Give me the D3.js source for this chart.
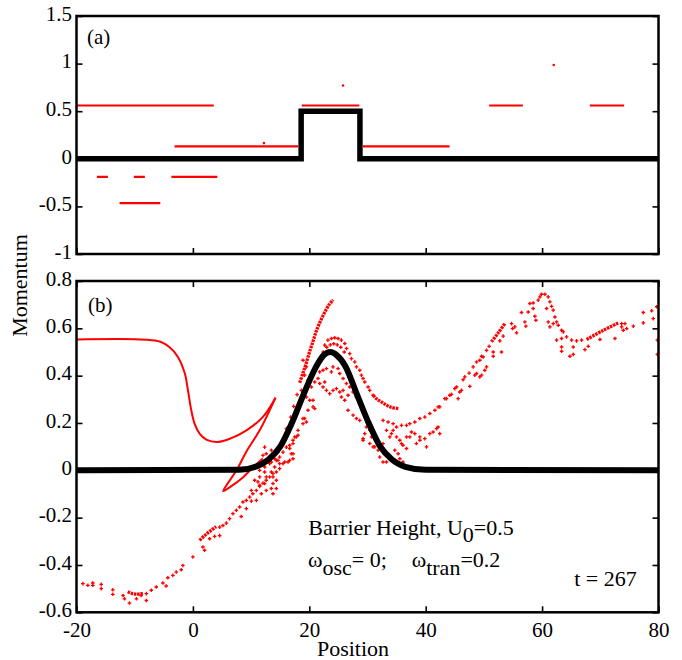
<!DOCTYPE html>
<html>
<head>
<meta charset="utf-8">
<script src="https://cdn.jsdelivr.net/npm/d3@7"></script>
<style>
body { margin: 0; background: #fff; }
text { font-family: "Liberation Serif", "Times New Roman", serif; }
</style>
</head>
<body>
<svg width="682" height="660"></svg>
<script>
// ticks
var xTicks = [-20, 0, 20, 40, 60, 80];
var aTicks = [-1, -0.5, 0, 0.5, 1, 1.5];
var bTicks = [-0.6, -0.4, -0.2, 0, 0.2, 0.4, 0.6, 0.8];

// panel (a): square barrier and red momentum plateaus [x0, x1, p]
var stepX = [-20, 18.6, 18.6, 28.7, 28.7, 80];
var stepY = [0, 0, 0.5, 0.5, 0, 0];
var aSegments = [
    [-20, 3.6, 0.56], [-3.15, 18.1, 0.13], [18.7, 28.6, 0.56], [29.2, 44.1, 0.13],
    [50.9, 56.7, 0.56], [68.2, 74.1, 0.56],
    [-16.5, -14.6, -0.19], [-10.15, -8.25, -0.19], [-3.7, 4.2, -0.19], [-12.6, -5.6, -0.465]
];
var aDots = [[12.2, 0.165], [25.8, 0.77], [62.0, 0.985]];

// panel (b): gaussian barrier
var barX = [-20, 8, 11, 13, 15, 17, 19, 21, 22.5, 23.6, 24.7, 26.2, 28.2, 30.2, 32.2, 34.2, 36.5, 40, 80];
var barY = [0, 0.002, 0.017, 0.046, 0.10, 0.20, 0.32, 0.43, 0.487, 0.5, 0.487, 0.44, 0.32, 0.20, 0.10, 0.046, 0.015, 0.002, 0];

// thin solid red curve, and its folded part after the cusp
var curveIn = [[-20, 0.553], [-8, 0.552], [-5.6, 0.543], [-4.0, 0.52], [-2.6, 0.48], [-1.4, 0.41], [-0.86, 0.34],
    [-0.28, 0.254], [0.29, 0.197], [1.15, 0.155], [2.3, 0.13], [4.3, 0.12], [6.5, 0.135], [9.2, 0.169],
    [12.0, 0.225], [14.2, 0.307]];
var curveFold = [[14.2, 0.307], [11.5, 0.17], [9.2, 0.08], [7.5, 0.0], [5.2, -0.088], [6.3, -0.072],
    [8.6, -0.03], [10.3, 0.012], [12.0, 0.05]];

// densely packed trajectory pieces
var densePeak = [[18.35, 0.37], [18.9, 0.41], [19.5, 0.455], [20.1, 0.505], [20.7, 0.55], [21.3, 0.595],
    [22.0, 0.635], [22.7, 0.67], [23.4, 0.70], [24.1, 0.72]];
var denseTail = [[31.0, 0.317], [31.5, 0.303], [32.4, 0.289], [33.3, 0.275], [34.1, 0.266], [35.3, 0.261]];
var denseLow = [[1.15, -0.296], [2.0, -0.276], [3.0, -0.256], [4.0, -0.238]];
var denseMin = [[-11.2, -0.513], [-10.5, -0.52], [-9.7, -0.523], [-8.6, -0.52]];
var denseUp = [[51.3, 0.543], [52.5, 0.582], [53.6, 0.62]];
var denseRight = [[67.65, 0.553], [70.4, 0.59], [73.1, 0.623]];

// scattered particles
var dotsLow = [[-18.9, -0.479], [-18.05, -0.486], [-17.2, -0.476], [-17.2, -0.486], [-15.75, -0.482], [-15.75, -0.5],
    [-13.76, -0.505], [-13.76, -0.524], [-12.0, -0.529], [-11.75, -0.543], [-10.9, -0.561], [-9.7, -0.543],
    [-8.9, -0.529], [-8.0, -0.521], [-8.0, -0.55], [-7.15, -0.507], [-6.3, -0.493], [-5.16, -0.476], [-4.6, -0.489],
    [-4.3, -0.454], [-3.44, -0.444], [-2.86, -0.43], [-2.0, -0.42], [-1.72, -0.402], [0.0, -0.366], [1.72, -0.324],
    [2.0, -0.338], [2.87, -0.289], [3.73, -0.279], [4.6, -0.276], [4.6, -0.24], [5.16, -0.233], [5.74, -0.223],
    [6.3, -0.204], [6.88, -0.183], [7.46, -0.169], [8.03, -0.155], [8.6, -0.134], [9.18, -0.127], [8.3, -0.195],
    [9.18, -0.162], [9.75, -0.113], [10.3, -0.099], [10.9, -0.085], [11.47, -0.068], [10.9, -0.127], [10.04, -0.13],
    [11.76, -0.099], [10.61, -0.042], [11.47, -0.028], [11.47, -0.063], [11.47, 0.0], [10.04, -0.085], [11.18, -0.049]];
var dotsRise = [[12.04, -0.054], [12.6, -0.042], [13.19, -0.028], [13.76, -0.014], [14.34, -0.042], [13.76, -0.056],
    [13.48, -0.077], [14.34, -0.077], [13.76, -0.099], [12.6, -0.085], [12.33, 0.014], [13.19, 0.028], [14.34, 0.042],
    [14.9, 0.028], [15.77, 0.035], [16.63, 0.042], [17.2, 0.07], [16.06, 0.098], [16.63, 0.106], [15.48, 0.077],
    [14.9, 0.056], [14.05, 0.049], [13.48, 0.085], [12.6, 0.07], [12.04, 0.063], [12.33, 0.098], [17.2, 0.127],
    [17.78, 0.141], [18.06, 0.148], [17.9, 0.32], [17.32, 0.27], [16.8, 0.225], [16.06, 0.176], [15.48, 0.127],
    [14.62, 0.077], [13.48, 0.035], [12.33, -0.007], [20.64, 0.296], [20.93, 0.261], [19.78, 0.254], [19.2, 0.219],
    [18.92, 0.197], [18.06, 0.169], [17.49, 0.141], [17.2, 0.113], [16.63, 0.092], [16.92, 0.07], [17.2, 0.049],
    [16.34, 0.035], [15.48, 0.028], [14.62, 0.042], [14.05, 0.014], [14.34, -0.007], [13.76, -0.028], [12.33, -0.056],
    [12.6, -0.028], [13.48, -0.007], [14.9, 0.007], [18.92, 0.465], [19.5, 0.437], [19.2, 0.402], [19.78, 0.381],
    [18.64, 0.338], [19.5, 0.31], [20.07, 0.296], [20.64, 0.268], [20.36, 0.352], [20.93, 0.373], [21.5, 0.388],
    [21.79, 0.367], [21.79, 0.416], [18.92, 0.219], [19.5, 0.204]];
var dotsPeak = [[22.65, 0.529], [23.2, 0.55], [23.8, 0.557], [24.37, 0.56], [24.94, 0.557], [25.5, 0.55], [26.1, 0.536],
    [26.4, 0.515], [26.95, 0.493], [27.24, 0.472], [27.8, 0.458], [28.1, 0.437], [28.67, 0.423], [28.96, 0.402],
    [29.24, 0.388], [29.53, 0.373], [30.1, 0.352], [30.39, 0.338], [30.96, 0.317], [22.4, 0.5], [23.0, 0.52],
    [23.6, 0.53], [24.2, 0.535], [24.8, 0.53], [25.4, 0.52], [26.0, 0.5], [22.36, 0.352], [22.65, 0.373],
    [22.94, 0.338], [23.5, 0.324], [24.08, 0.338], [24.66, 0.345], [25.23, 0.331], [25.8, 0.338], [25.52, 0.31],
    [26.09, 0.296], [26.66, 0.317], [22.36, 0.423], [22.94, 0.43], [23.8, 0.416], [24.08, 0.437], [24.94, 0.43],
    [25.23, 0.409], [25.8, 0.388], [26.38, 0.367], [26.95, 0.352], [27.52, 0.331], [28.1, 0.31], [28.67, 0.289],
    [28.96, 0.268], [29.53, 0.247], [26.66, 0.254], [27.52, 0.233], [28.1, 0.219], [28.67, 0.211], [29.82, 0.183],
    [30.39, 0.169], [30.68, 0.141], [30.39, 0.113], [31.25, 0.099], [31.82, 0.085], [32.1, 0.056], [32.67, 0.035],
    [33.26, 0.035], [34.12, 0.042], [29.53, 0.155], [29.24, 0.134], [32.67, 0.211], [33.53, 0.204], [34.4, 0.197],
    [34.98, 0.183], [35.84, 0.19], [33.26, 0.169], [34.12, 0.155], [34.98, 0.141], [35.55, 0.127], [34.69, 0.085],
    [35.26, 0.07], [35.55, 0.049], [29.24, 0.127], [30.96, 0.099], [32.67, 0.113], [33.83, 0.141], [34.4, 0.169]];
var dotsValley = [[36.1, 0.106], [36.7, 0.092], [36.1, 0.035], [36.7, 0.19], [37.27, 0.197], [38.13, 0.204],
    [38.99, 0.219], [39.85, 0.225], [40.71, 0.24], [41.57, 0.254], [42.13, 0.268], [37.27, 0.141], [38.13, 0.155],
    [38.99, 0.141], [39.85, 0.134], [40.71, 0.155], [41.27, 0.162], [41.86, 0.176], [38.4, 0.113], [40.14, 0.099],
    [35.84, 0.113], [36.7, 0.141], [37.56, 0.162], [39.0, 0.127], [42.42, 0.155], [42.13, 0.183],
    [43.28, 0.303], [44.14, 0.317], [45.0, 0.345], [45.57, 0.303], [45.86, 0.331], [46.43, 0.383], [46.15, 0.338],
    [46.72, 0.395], [47.58, 0.355], [47.46, 0.411], [48.15, 0.437], [48.44, 0.402], [48.74, 0.458], [49.3, 0.395],
    [49.6, 0.402], [49.6, 0.482], [43.57, 0.303], [44.43, 0.321], [45.3, 0.352], [48.74, 0.409], [49.3, 0.465],
    [49.87, 0.479], [42.42, 0.268]];
var dotsRight = [[50.16, 0.423], [50.45, 0.507], [50.45, 0.437], [50.9, 0.524], [51.6, 0.5], [51.6, 0.482],
    [52.74, 0.547], [53.03, 0.5], [53.31, 0.567], [54.75, 0.62], [54.92, 0.599], [55.32, 0.606], [55.61, 0.581],
    [56.47, 0.667], [57.04, 0.627], [57.21, 0.609], [57.61, 0.669], [57.9, 0.705], [58.47, 0.684], [58.76, 0.651],
    [58.93, 0.634], [58.47, 0.707], [59.33, 0.719], [59.62, 0.733], [59.9, 0.744], [60.48, 0.744], [60.77, 0.684],
    [61.05, 0.733], [61.34, 0.712], [61.63, 0.693], [61.91, 0.677], [62.2, 0.648], [62.49, 0.627], [61.05, 0.627],
    [61.34, 0.606], [61.91, 0.62], [62.77, 0.613], [63.35, 0.592], [63.63, 0.585], [62.49, 0.55], [63.35, 0.557],
    [64.2, 0.564], [63.35, 0.521], [63.35, 0.503], [64.78, 0.482], [65.35, 0.49], [65.35, 0.521], [65.07, 0.55],
    [65.93, 0.547], [66.79, 0.55], [67.36, 0.51], [67.93, 0.524], [69.94, 0.553], [72.52, 0.557], [73.67, 0.606],
    [73.95, 0.592], [74.53, 0.599], [73.67, 0.62], [74.24, 0.62], [75.67, 0.609], [77.39, 0.667], [78.83, 0.674],
    [77.39, 0.623], [79.1, 0.641], [79.69, 0.691], [79.8, 0.55], [79.8, 0.49]];

var svg = d3.select("svg");
var left = 76.5, right = 658.5;
var x = d3.scaleLinear().domain([-20, 80]).range([left, right]);
var ya = d3.scaleLinear().domain([-1, 1.5]).range([254, 16]);
var yb = d3.scaleLinear().domain([-0.6, 0.8]).range([612.3, 281]);
var fmt = function (d) { return String(d); };

function clip(id, y) {
    svg.append("clipPath").attr("id", id).append("rect")
        .attr("x", left).attr("y", y.range()[1])
        .attr("width", right - left).attr("height", y.range()[0] - y.range()[1]);
}
clip("ca", ya);
clip("cb", yb);

function styleAxis(g, size) {
    g.select(".domain").remove();
    g.selectAll(".tick line").attr("stroke-width", 1.6);
    g.selectAll("text").attr("font-family", "Liberation Serif, Times New Roman, serif")
        .attr("font-size", size).attr("fill", "#000");
}

// axes, panel a
svg.append("g").attr("transform", "translate(" + left + ",0)")
    .call(d3.axisLeft(ya).tickValues(aTicks).tickSize(-6).tickPadding(4.5).tickFormat(fmt))
    .call(styleAxis, 21).selectAll("text").attr("dy", "0.2em");
svg.append("g").attr("transform", "translate(" + right + ",0)")
    .call(d3.axisRight(ya).tickValues(aTicks).tickSize(-6).tickFormat(""))
    .call(styleAxis, 21);
svg.append("g").attr("transform", "translate(0," + ya.range()[0] + ")")
    .call(d3.axisBottom(x).tickValues(xTicks).tickSize(-6).tickFormat(""))
    .call(styleAxis, 21);

// axes, panel b
svg.append("g").attr("transform", "translate(" + left + ",0)")
    .call(d3.axisLeft(yb).tickValues(bTicks).tickSize(-6).tickPadding(4.5).tickFormat(fmt))
    .call(styleAxis, 21).selectAll("text").attr("dy", "0.2em");
svg.append("g").attr("transform", "translate(" + right + ",0)")
    .call(d3.axisRight(yb).tickValues(bTicks).tickSize(-6).tickFormat(""))
    .call(styleAxis, 21);
svg.append("g").attr("transform", "translate(0," + yb.range()[1] + ")")
    .call(d3.axisTop(x).tickValues(xTicks).tickSize(-6).tickFormat(""))
    .call(styleAxis, 21);
svg.append("g").attr("transform", "translate(0," + yb.range()[0] + ")")
    .call(d3.axisBottom(x).tickValues(xTicks).tickSize(-6).tickPadding(9.8).tickFormat(fmt))
    .call(styleAxis, 21);

// panel a content
var pa = svg.append("g").attr("clip-path", "url(#ca)");
pa.selectAll("line.seg").data(aSegments).enter().append("line")
    .attr("class", "seg")
    .attr("x1", function (d) { return x(d[0]); })
    .attr("x2", function (d) { return x(d[1]); })
    .attr("y1", function (d) { return ya(d[2]); })
    .attr("y2", function (d) { return ya(d[2]); })
    .attr("stroke", "#ff0000").attr("stroke-width", 2.2);
pa.selectAll("circle.dot").data(aDots).enter().append("circle")
    .attr("class", "dot")
    .attr("cx", function (d) { return x(d[0]); })
    .attr("cy", function (d) { return ya(d[1]); })
    .attr("r", 1.3).attr("fill", "#ff0000");
pa.append("path")
    .datum(d3.range(stepX.length))
    .attr("d", d3.line().x(function (i) { return x(stepX[i]); }).y(function (i) { return ya(stepY[i]); }))
    .attr("fill", "none").attr("stroke", "#000").attr("stroke-width", 5.5)
    .attr("stroke-linejoin", "miter");

// panel b content
var pb = svg.append("g").attr("clip-path", "url(#cb)");
var smooth = d3.line().curve(d3.curveCatmullRom.alpha(0.5))
    .x(function (d) { return x(d[0]); }).y(function (d) { return yb(d[1]); });

[curveIn, curveFold].forEach(function (c) {
    pb.append("path").datum(c).attr("d", smooth)
        .attr("fill", "none").attr("stroke", "#ff0000").attr("stroke-width", 2);
});
[densePeak, denseTail, denseLow, denseMin, denseUp, denseRight].forEach(function (c) {
    pb.append("path").datum(c).attr("d", smooth)
        .attr("fill", "none").attr("stroke", "#ff0000").attr("stroke-width", 3.3)
        .attr("stroke-dasharray", "2.5,0.8");
});
var allDots = [].concat(dotsLow, dotsRise, dotsPeak, dotsValley, dotsRight);
pb.selectAll("path.dot").data(allDots).enter().append("path")
    .attr("class", "dot")
    .attr("transform", function (d) { return "translate(" + x(d[0]) + "," + yb(d[1]) + ")"; })
    .attr("d", "M-1.8,0H1.8M0,-1.8V1.8")
    .attr("stroke", "#ff0000").attr("stroke-width", 1.35);
pb.append("path")
    .datum(d3.range(barX.length))
    .attr("d", d3.line().curve(d3.curveMonotoneX)
        .x(function (i) { return x(barX[i]); }).y(function (i) { return yb(barY[i]); }))
    .attr("fill", "none").attr("stroke", "#000").attr("stroke-width", 6);

// frames
[ya, yb].forEach(function (y) {
    svg.append("rect").attr("x", left).attr("y", y.range()[1])
        .attr("width", right - left).attr("height", y.range()[0] - y.range()[1])
        .attr("fill", "none").attr("stroke", "#000").attr("stroke-width", 2.5);
});

// labels
svg.append("text").attr("x", 87).attr("y", 43.5).attr("font-size", 21).text("(a)");
svg.append("text").attr("x", 88).attr("y", 311.5).attr("font-size", 21).text("(b)");
svg.append("text").attr("transform", "translate(27,285.5) rotate(-90)")
    .attr("text-anchor", "middle").attr("font-size", 22).text("Momentum");
svg.append("text").attr("x", 353).attr("y", 656)
    .attr("text-anchor", "middle").attr("font-size", 22).text("Position");

var t1 = svg.append("text").attr("x", 308.3).attr("y", 534.5).attr("font-size", 22);
t1.append("tspan").text("Barrier Height, U");
t1.append("tspan").attr("dy", 7).text("0");
t1.append("tspan").attr("dy", -7).text("=0.5");

var t2 = svg.append("text").attr("x", 308).attr("y", 567).attr("font-size", 22);
t2.append("tspan").text("\u03c9");
t2.append("tspan").attr("dy", 8).text("osc");
t2.append("tspan").attr("dy", -8).text("= 0;");
t2.append("tspan").attr("x", 411.7).text("\u03c9");
t2.append("tspan").attr("dy", 8).text("tran");
t2.append("tspan").attr("dy", -8).text("=0.2");

svg.append("text").attr("x", 636.7).attr("y", 586).attr("text-anchor", "end")
    .attr("font-size", 22).text("t = 267");
</script>
</body>
</html>
